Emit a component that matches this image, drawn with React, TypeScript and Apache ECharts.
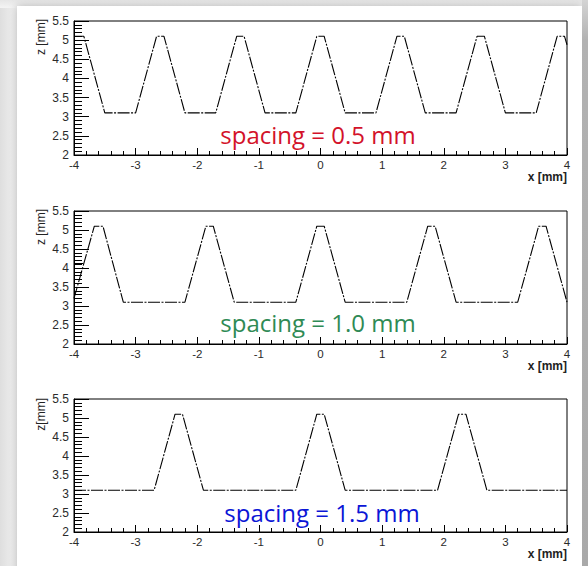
import React, { useEffect, useRef } from 'react';
import * as echarts from 'echarts';

// ---- data ----
const spacingLabels = ['spacing = 0.5 mm', 'spacing = 1.0 mm', 'spacing = 1.5 mm'];
const zTitles = ['z [mm]', 'z [mm]', 'z[mm]'];
const xTitle = 'x [mm]';

// spacing 0.5 mm
const x05 = [-4, -3.84, -3.5, -3.0, -2.66, -2.54, -2.2, -1.7, -1.36, -1.24, -0.9, -0.4, -0.06, 0.06, 0.4, 0.9, 1.24, 1.36, 1.7, 2.2, 2.54, 2.66, 3.0, 3.5, 3.84, 3.96, 4.0];
const z05 = [5.1, 5.1, 3.1, 3.1, 5.1, 5.1, 3.1, 3.1, 5.1, 5.1, 3.1, 3.1, 5.1, 5.1, 3.1, 3.1, 5.1, 5.1, 3.1, 3.1, 5.1, 5.1, 3.1, 3.1, 5.1, 5.1, 4.88];

// spacing 1.0 mm
const x10 = [-4, -3.67, -3.53, -3.2, -2.2, -1.86, -1.74, -1.4, -0.4, -0.06, 0.06, 0.4, 1.4, 1.74, 1.86, 2.2, 3.2, 3.54, 3.66, 4.0];
const z10 = [3.2, 5.1, 5.1, 3.1, 3.1, 5.1, 5.1, 3.1, 3.1, 5.1, 5.1, 3.1, 3.1, 5.1, 5.1, 3.1, 3.1, 5.1, 5.1, 3.1];
const x10stub = [-4, -3.85];
const z10stub = [4.12, 4.12];

// spacing 1.5 mm
const x15 = [-4, -2.7, -2.36, -2.24, -1.9, -0.4, -0.06, 0.06, 0.4, 1.9, 2.24, 2.36, 2.7, 4];
const z15 = [3.1, 3.1, 5.1, 5.1, 3.1, 3.1, 5.1, 5.1, 3.1, 3.1, 5.1, 5.1, 3.1, 3.1];

const zip = (xs: number[], zs: number[]) => xs.map((x, i) => [x, zs[i]]);

export default function App() {
  const ref = useRef<HTMLDivElement>(null);

  useEffect(() => {
    if (!ref.current) return;
    const chart = echarts.init(ref.current, undefined, { renderer: 'svg' });

    const tops = [21, 211, 399];
    const heights = [134, 133, 133];
    const colors = ['#d3122a', '#2f8a55', '#0b16d6'];
    const annX = [318, 318, 322];
    const annY = [134, 322, 512];
    const xtY = [177, 366, 554];
    const ztY = [19, 209, 398];
    const tickFont = 'Liberation Sans, Arial, sans-serif';

    const grids = tops.map((t, i) => ({
      left: 74, top: t, width: 493, height: heights[i],
      show: true, borderColor: '#000', borderWidth: 1, backgroundColor: 'transparent',
    }));

    const xAxes = tops.map((_, i) => ({
      type: 'value', gridIndex: i, min: -4, max: 4, interval: 1,
      axisLine: { show: true, onZero: false, lineStyle: { color: '#000', width: 1 } },
      axisTick: { show: true, inside: true, length: 7, lineStyle: { color: '#000' } },
      minorTick: { show: true, splitNumber: 5, length: 4, lineStyle: { color: '#000' } },
      splitLine: { show: false },
      minorSplitLine: { show: false },
      axisLabel: {
        color: '#2a2a2a', fontSize: 11.5, lineHeight: 12, fontFamily: tickFont, margin: 4,
      },
    }));

    const yAxes = tops.map((_, i) => ({
      type: 'value', gridIndex: i, min: 2, max: 5.5, interval: 0.5,
      axisLine: { show: true, onZero: false, lineStyle: { color: '#000', width: 1 } },
      axisTick: { show: true, inside: true, length: 15, lineStyle: { color: '#000' } },
      minorTick: { show: true, splitNumber: 5, length: 8, lineStyle: { color: '#000' } },
      splitLine: { show: false },
      minorSplitLine: { show: false },
      axisLabel: { color: '#2a2a2a', fontSize: 12, lineHeight: 10, fontFamily: tickFont, margin: 5 },
    }));

    const lineStyle = { color: '#000', width: 1.1, type: [12, 1.5, 2, 1.5] as any };
    const mk = (data: number[][], i: number) => ({
      type: 'line', xAxisIndex: i, yAxisIndex: i, data,
      symbol: 'none', showSymbol: false, lineStyle, silent: true,
    });

    const series = [
      mk(zip(x05, z05), 0),
      mk(zip(x10, z10), 1),
      mk(zip(x10stub, z10stub), 1),
      mk(zip(x15, z15), 2),
    ];

    const graphic: any[] = [];
    tops.forEach((_, i) => {
      graphic.push({
        type: 'text', x: annX[i], y: annY[i], z: 100,
        style: {
          text: spacingLabels[i], fill: colors[i], fontSize: 24,
          fontFamily: 'Open Sans, sans-serif', align: 'center', verticalAlign: 'middle',
        },
      });
      graphic.push({
        type: 'text', x: 567, y: xtY[i], z: 100,
        style: {
          text: xTitle, fill: '#222', fontSize: 12, fontWeight: 'bold',
          fontFamily: tickFont, align: 'right', verticalAlign: 'middle',
        },
      });
      graphic.push({
        type: 'text', x: 41, y: ztY[i], rotation: Math.PI / 2, z: 100,
        style: {
          text: zTitles[i], fill: '#222', fontSize: 12,
          fontFamily: tickFont, align: 'right', verticalAlign: 'middle',
        },
      });
    });

    chart.setOption({
      animation: false,
      backgroundColor: 'transparent',
      grid: grids,
      xAxis: xAxes,
      yAxis: yAxes,
      series,
      graphic,
    } as any);

    return () => chart.dispose();
  }, []);

  return (
    <div style={{ position: 'absolute', left: 0, top: 0, width: 588, height: 566, overflow: 'hidden',
      background: 'linear-gradient(to right, #dedede 0px, #f2f2f2 17px)' }}>
      <div style={{ position: 'absolute', left: 0, top: 0, width: 588, height: 8,
        background: 'linear-gradient(to bottom, #e6e6e6, #f4f4f4)' }} />
      <div style={{ position: 'absolute', left: 17, top: 6, width: 565, height: 570, background: '#fff',
        boxShadow: '0 0 8px rgba(0,0,0,0.25)' }} />
      <div style={{ position: 'absolute', left: 582, top: 0, width: 6, height: 566,
        background: 'linear-gradient(to bottom, #d4d4d4 0px, #b2b2b2 40px, #a9a9a9 566px)' }} />
      <div ref={ref} style={{ position: 'absolute', left: 0, top: 0, width: 588, height: 566 }} />
    </div>
  );
}
